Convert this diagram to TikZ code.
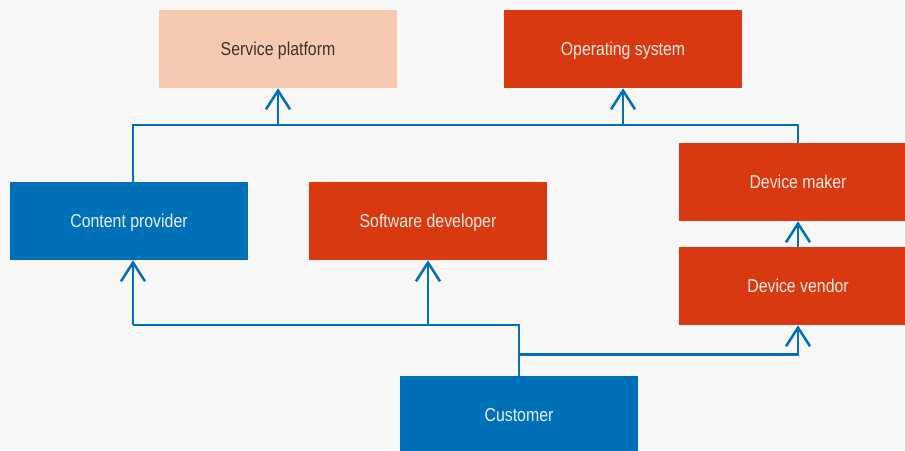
\documentclass[tikz,border=0pt]{standalone}
\usepackage{fontspec}
\setmainfont{Liberation Sans}[FakeStretch=0.85]
\usepackage{xcolor}
\usetikzlibrary{arrows.meta}
\usetikzlibrary{positioning}

\definecolor{bgray}{RGB}{247,247,247}
\definecolor{mblue}{RGB}{0,112,184}
\definecolor{mred}{RGB}{217,57,16}
\definecolor{mpeach}{RGB}{246,202,177}

\tikzset{
 box/.style={rectangle, inner sep=0, minimum width=178.5pt, minimum height=58.5pt, text depth=0pt, font=\fontsize{14}{16}\selectfont},
 bluebox/.style={box, fill=mblue, text={rgb,255:red,232;green,240;blue,248}},
 redbox/.style={box, fill=mred, text={rgb,255:red,252;green,236;blue,230}},
 palebox/.style={box, fill=mpeach, text={rgb,255:red,60;green,50;blue,45}},
 link/.style={draw=mblue, line width=1.9pt},
 up/.style={link, -{Straight Barb[length=14pt,width=18pt,line join=miter,line cap=butt]}},
}

\begin{document}
\begin{tikzpicture}[x=0.75pt, y=-0.75pt]
\fill[bgray] (0,0) rectangle (905,450);
\clip (0,0) rectangle (905,450);

% boxes, centres in pixel units
\node[palebox] (sp) at (278,49) {Service platform};
\node[redbox] (os) at (623,49) {Operating system};
\node[bluebox] (cp) at (129,221) {Content provider};
\node[redbox] (sd) at (428,221) {Software developer};
\node[redbox] (dm) at (798,182) {Device maker};
\node[redbox] (dv) at (798,286) {Device vendor};
\node[bluebox] (cu) at (519,415) {Customer};

\coordinate (tbus) at (0,125);
\coordinate (bbus) at (0,325);
\coordinate (cpx) at ([xshift=3pt]cp.north);
\coordinate (cpy) at ([xshift=3pt]cp.south);
\coordinate (cbr) at ([yshift=15.75pt]cu.north);

% upper line
\draw[link] (cpx) -- (cpx |- tbus) -| (dm.north);
\draw[up] (sp.south |- tbus) -- (sp.south);
\draw[up] (os.south |- tbus) -- (os.south);
\draw[up] (dv.north) -- (dm.south);

% lower line
\draw[link] (cpy |- bbus) -| (cu.north);
\draw[up] (cpy |- bbus) -- (cpy);
\draw[up] (sd.south |- bbus) -- (sd.south);
\draw[up] (cbr) -| (dv.south);
\end{tikzpicture}
\end{document}
